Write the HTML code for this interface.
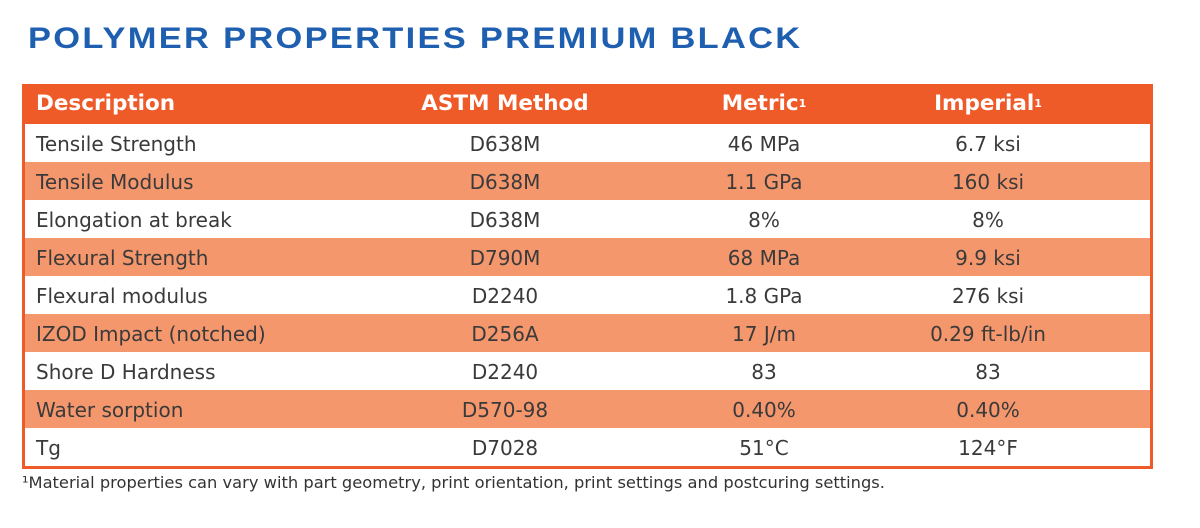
<!DOCTYPE html>
<html><head><style>
body{margin:0;width:1200px;height:528px;background:#fff;position:relative;overflow:hidden;font-family:"DejaVu Sans","Liberation Sans",sans-serif;}
.title{position:absolute;left:28px;top:22px;font-family:"Liberation Sans",sans-serif;font-weight:bold;font-size:30px;color:#1f5fb0;white-space:nowrap;transform-origin:0 0;letter-spacing:2px;}
.tbl{position:absolute;left:22px;top:84px;width:1131px;border:3px solid #ef5a29;border-top:none;box-sizing:border-box;}
.row{height:38px;position:relative;font-size:20px;color:#3a3a3a;}
.row div{position:absolute;top:1px;line-height:38px;white-space:nowrap;}
.h{height:40px;background:#ef5a29;color:#fff;font-weight:bold;font-size:21.5px;}
.h div{line-height:40px;top:0}
.s{background:#f5976d;}
.c1{left:11px}
.c2{left:480px;width:0;display:flex;justify-content:center}
.c3{left:739px;width:0;display:flex;justify-content:center}
.c4{left:963px;width:0;display:flex;justify-content:center}
sup{font-size:11px;vertical-align:8px}
.foot{position:absolute;left:22px;top:473px;font-size:16.3px;color:#333;}
</style></head><body>
<div class="title" style="transform:scaleX(1.148)">POLYMER PROPERTIES PREMIUM BLACK</div>
<div class="tbl">
<div class="row h"><div class="c1">Description</div><div class="c2">ASTM&nbsp;Method</div><div class="c3">Metric<sup>1</sup></div><div class="c4">Imperial<sup>1</sup></div></div>
<div class="row"><div class="c1">Tensile Strength</div><div class="c2">D638M</div><div class="c3">46 MPa</div><div class="c4">6.7 ksi</div></div>
<div class="row s"><div class="c1">Tensile Modulus</div><div class="c2">D638M</div><div class="c3">1.1 GPa</div><div class="c4">160 ksi</div></div>
<div class="row"><div class="c1">Elongation at break</div><div class="c2">D638M</div><div class="c3">8%</div><div class="c4">8%</div></div>
<div class="row s"><div class="c1">Flexural Strength</div><div class="c2">D790M</div><div class="c3">68 MPa</div><div class="c4">9.9 ksi</div></div>
<div class="row"><div class="c1">Flexural modulus</div><div class="c2">D2240</div><div class="c3">1.8 GPa</div><div class="c4">276 ksi</div></div>
<div class="row s"><div class="c1">IZOD Impact (notched)</div><div class="c2">D256A</div><div class="c3">17 J/m</div><div class="c4">0.29 ft-lb/in</div></div>
<div class="row"><div class="c1">Shore D Hardness</div><div class="c2">D2240</div><div class="c3">83</div><div class="c4">83</div></div>
<div class="row s"><div class="c1">Water sorption</div><div class="c2">D570-98</div><div class="c3">0.40%</div><div class="c4">0.40%</div></div>
<div class="row"><div class="c1">Tg</div><div class="c2">D7028</div><div class="c3">51°C</div><div class="c4">124°F</div></div>
</div>
<div class="foot">¹Material properties can vary with part geometry, print orientation, print settings and postcuring settings.</div>
</body></html>
